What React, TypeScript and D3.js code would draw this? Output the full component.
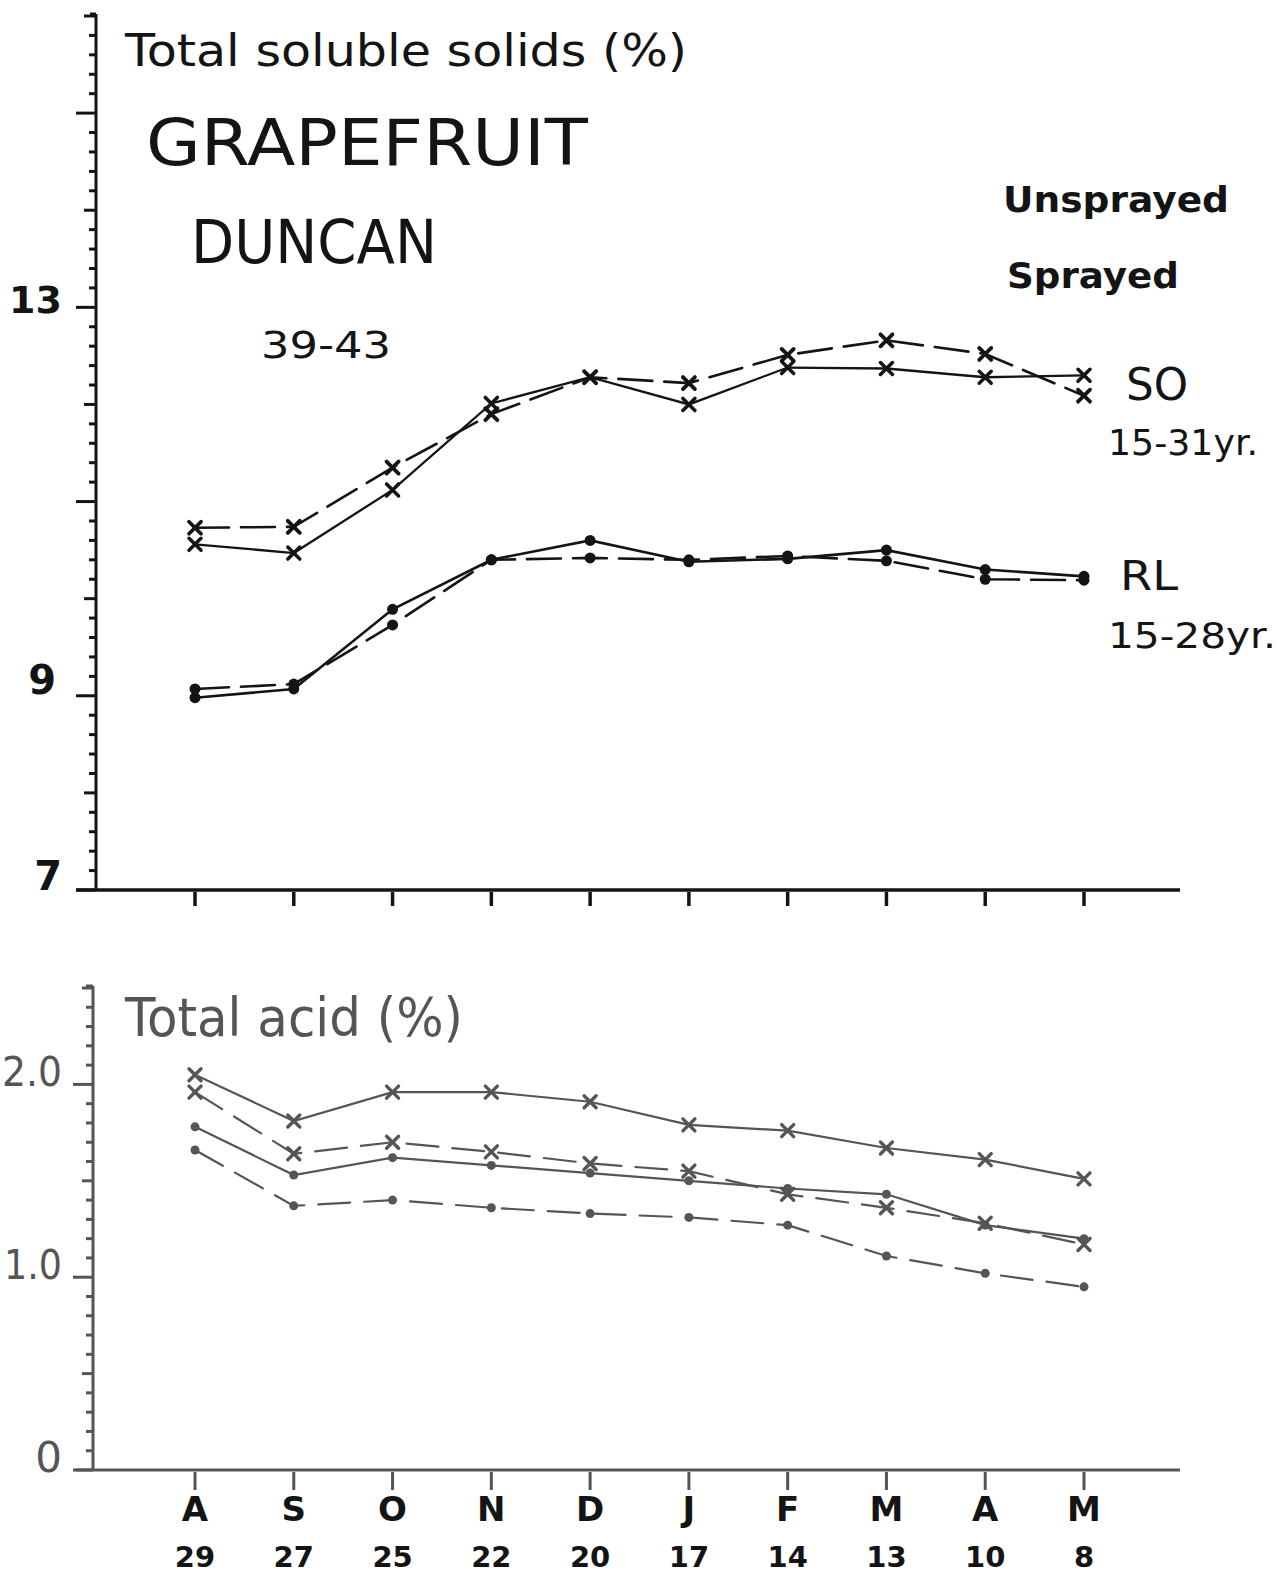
import React from 'react';
import * as d3 from 'd3';

// sampling dates (month initial + day)
const months = ['A', 'S', 'O', 'N', 'D', 'J', 'F', 'M', 'A', 'M'];
const days = ['29', '27', '25', '22', '20', '17', '14', '13', '10', '8'];

// Total soluble solids (%)
const soUnsprayed = [10.56, 10.47, 11.12, 12.01, 12.28, 12.0, 12.38, 12.37, 12.28, 12.3];
const soSprayed = [10.73, 10.74, 11.35, 11.9, 12.28, 12.22, 12.51, 12.66, 12.52, 12.09];
const rlUnsprayed = [8.98, 9.07, 9.89, 10.4, 10.6, 10.38, 10.41, 10.5, 10.3, 10.23];
const rlSprayed = [9.07, 9.12, 9.73, 10.4, 10.42, 10.4, 10.44, 10.39, 10.2, 10.19];

// Total acid (%)
const acidSoUnsprayed = [2.05, 1.81, 1.96, 1.96, 1.91, 1.79, 1.76, 1.67, 1.61, 1.51];
const acidSoSprayed = [1.96, 1.64, 1.7, 1.65, 1.59, 1.55, 1.43, 1.36, 1.28, 1.17];
const acidRlUnsprayed = [1.78, 1.53, 1.62, 1.58, 1.54, 1.5, 1.46, 1.43, 1.27, 1.2];
const acidRlSprayed = [1.66, 1.37, 1.4, 1.36, 1.33, 1.31, 1.27, 1.11, 1.02, 0.95];

const W = 1285;
const H = 1576;
const INK = '#141414';
const GREY = '#555';
const FONT = '"DejaVu Sans", "Liberation Sans", sans-serif';

const x = d3.scaleLinear().domain([0, 9]).range([195, 1084]);
const yTop = d3.scaleLinear().domain([7, 16]).range([890, 16]);
const yBot = d3.scaleLinear().domain([0, 2.5]).range([1470, 988]);

function Cross({ cx, cy, s, color, w }) {
  return (
    <g stroke={color} strokeWidth={w} strokeLinecap="round">
      <line x1={cx - s} y1={cy - s} x2={cx + s} y2={cy + s} />
      <line x1={cx - s} y1={cy + s} x2={cx + s} y2={cy - s} />
    </g>
  );
}

function Series({ values, y, dashed, marker, color, width, dash, r }) {
  const line = d3.line<number>()
    .x((d, i) => x(i))
    .y(d => y(d));
  return (
    <g>
      <path d={line(values) || ''} fill="none" stroke={color} strokeWidth={width}
        strokeDasharray={dashed ? dash : undefined} strokeLinecap="round" />
      {values.map((v, i) => marker === 'x'
        ? <Cross key={i} cx={x(i)} cy={y(v)} s={6} color={color} w={width + 1.2} />
        : <circle key={i} cx={x(i)} cy={y(v)} r={r || 4.5} fill={color} />)}
    </g>
  );
}

export default function App() {
  const topTicks = d3.range(7, 16.001, 0.2).map(v => +v.toFixed(1));
  const botTicks = d3.range(0, 2.501, 0.1).map(v => +v.toFixed(1));

  return (
    <svg width={W} height={H} style={{ position: 'absolute', left: 0, top: 0, background: '#fff' }}
      fontFamily={FONT}>
      <rect width={W} height={H} fill="#fff" />

      {/* ---------- top panel: soluble solids ---------- */}
      <line x1={96} y1={14} x2={96} y2={890} stroke={INK} strokeWidth={3} />
      <line x1={90} y1={14} x2={96} y2={14} stroke={INK} strokeWidth={3} />
      <line x1={76} y1={890} x2={1180} y2={890} stroke={INK} strokeWidth={3.5} />
      {topTicks.map(v => {
        const isInt = Math.abs(v - Math.round(v)) < 0.01;
        const len = isInt ? (Math.round(v) % 2 === 1 ? 20 : 12) : 7;
        return <line key={v} x1={96 - len} y1={yTop(v)} x2={96} y2={yTop(v)} stroke={INK} strokeWidth={3} />;
      })}
      {months.map((m, i) => (
        <line key={i} x1={x(i)} y1={892} x2={x(i)} y2={906} stroke={INK} strokeWidth={3.5} />
      ))}
      <text x={62} y={yTop(13) + 6} textAnchor="end" fontSize={38} fontWeight="bold" fill={INK}>13</text>
      <text x={56} y={yTop(9) - 2} textAnchor="end" fontSize={40} fontWeight="bold" fill={INK}>9</text>
      <text x={62} y={yTop(7)} textAnchor="end" fontSize={40} fontWeight="bold" fill={INK}>7</text>

      <text x={125} y={66} fontSize={44} fill={INK} textLength={562} lengthAdjust="spacingAndGlyphs">Total soluble solids (%)</text>
      <text x={146} y={165} fontSize={64} fill={INK} textLength={442} lengthAdjust="spacingAndGlyphs">GRAPEFRUIT</text>
      <text x={191} y={263} fontSize={60} fill={INK} textLength={246} lengthAdjust="spacingAndGlyphs">DUNCAN</text>
      <text x={261} y={358} fontSize={38} fill={INK} textLength={130} lengthAdjust="spacingAndGlyphs">39-43</text>
      <text x={1003} y={212} fontSize={36} fontWeight="bold" fill={INK} textLength={226} lengthAdjust="spacingAndGlyphs">Unsprayed</text>
      <text x={1007} y={288} fontSize={36} fontWeight="bold" fill={INK} textLength={172} lengthAdjust="spacingAndGlyphs">Sprayed</text>
      <text x={1126} y={400} fontSize={44} fill={INK} textLength={62} lengthAdjust="spacingAndGlyphs">SO</text>
      <text x={1108} y={455} fontSize={36} fill={INK} textLength={150} lengthAdjust="spacingAndGlyphs">15-31yr.</text>
      <text x={1120} y={590} fontSize={40} fill={INK} textLength={58} lengthAdjust="spacingAndGlyphs">RL</text>
      <text x={1108} y={648} fontSize={36} fill={INK} textLength={168} lengthAdjust="spacingAndGlyphs">15-28yr.</text>

      <Series values={soUnsprayed} y={yTop} marker="x" color={INK} width={2.3} />
      <Series values={soSprayed} y={yTop} marker="x" dashed dash="34 12" color={INK} width={2.6} />
      <Series values={rlUnsprayed} y={yTop} marker="dot" color={INK} width={2.6} r={5.5} />
      <Series values={rlSprayed} y={yTop} marker="dot" dashed dash="34 12" color={INK} width={2.6} r={5.5} />

      {/* ---------- bottom panel: total acid ---------- */}
      <line x1={93} y1={986} x2={93} y2={1470} stroke={GREY} strokeWidth={3} />
      <line x1={86} y1={986} x2={93} y2={986} stroke={GREY} strokeWidth={3} />
      <line x1={76} y1={1470} x2={1180} y2={1470} stroke={GREY} strokeWidth={3} />
      {botTicks.map(v => {
        const isInt = Math.abs(v - Math.round(v)) < 0.01;
        const isHalf = Math.abs(v * 2 - Math.round(v * 2)) < 0.01;
        const len = isInt ? 20 : isHalf ? 11 : 7;
        return <line key={v} x1={93 - len} y1={yBot(v)} x2={93} y2={yBot(v)} stroke={GREY} strokeWidth={3} />;
      })}
      {months.map((m, i) => (
        <line key={i} x1={x(i)} y1={1472} x2={x(i)} y2={1490} stroke={GREY} strokeWidth={3} />
      ))}
      <text x={2} y={yBot(2) + 2} fontSize={40} fill={GREY} textLength={60} lengthAdjust="spacingAndGlyphs">2.0</text>
      <text x={4} y={yBot(1) + 2} fontSize={40} fill={GREY} textLength={58} lengthAdjust="spacingAndGlyphs">1.0</text>
      <text x={62} y={yBot(0) + 2} textAnchor="end" fontSize={42} fill={GREY}>0</text>
      <text x={125} y={1036} fontSize={54} fill={GREY} textLength={338} lengthAdjust="spacingAndGlyphs">Total acid (%)</text>

      <Series values={acidSoUnsprayed} y={yBot} marker="x" color={GREY} width={2.2} />
      <Series values={acidSoSprayed} y={yBot} marker="x" dashed dash="32 14" color={GREY} width={2.2} />
      <Series values={acidRlUnsprayed} y={yBot} marker="dot" color={GREY} width={2.2} />
      <Series values={acidRlSprayed} y={yBot} marker="dot" dashed dash="32 14" color={GREY} width={2.2} />

      {months.map((m, i) => (
        <g key={i}>
          <text x={x(i)} y={1521} textAnchor="middle" fontSize={34} fontWeight="bold" fill={INK}>{m}</text>
          <text x={x(i)} y={1567} textAnchor="middle" fontSize={29} fontWeight="bold" fill={INK}>{days[i]}</text>
        </g>
      ))}
    </svg>
  );
}
